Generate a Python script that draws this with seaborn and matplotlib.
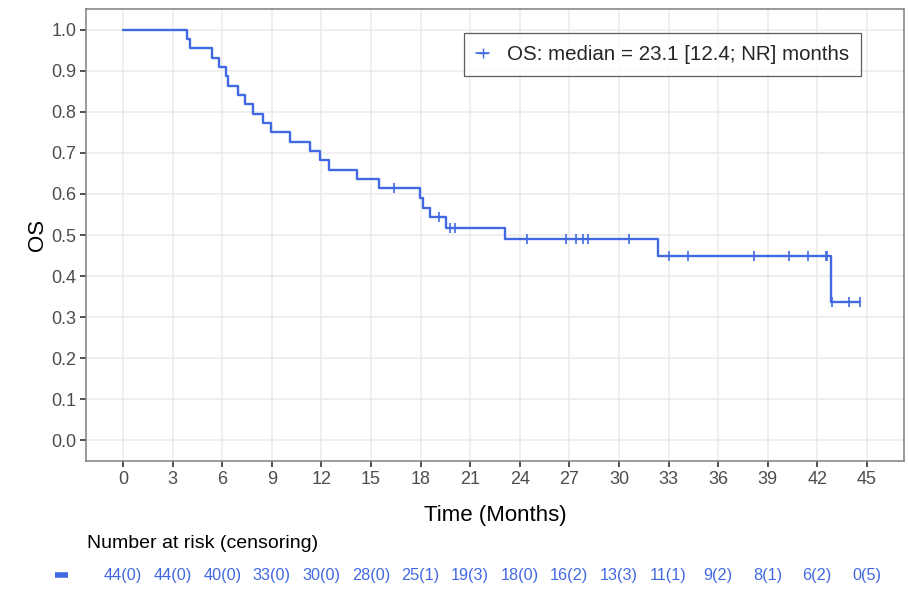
import numpy as np
import pandas as pd
import matplotlib
matplotlib.use("Agg")
import matplotlib.pyplot as plt
import seaborn as sns
from matplotlib.lines import Line2D

# ---- data ----
event_times = [3.86, 4.05, 5.4, 5.8, 6.2, 6.34, 6.94, 7.35, 7.85, 8.45, 8.92,
               10.08, 11.28, 11.93, 12.43, 14.13, 15.48, 17.95, 18.15, 18.55,
               19.55, 23.1, 32.35, 42.85]
censor_times = [16.4, 19.1, 19.8, 20.1, 24.43, 26.8, 27.42, 27.83, 28.13, 30.6,
                33.05, 34.2, 38.2, 40.3, 41.45, 42.5, 42.57, 42.9, 43.95, 44.6]
risk_times = [0, 3, 6, 9, 12, 15, 18, 21, 24, 27, 30, 33, 36, 39, 42, 45]
n_at_risk = [44, 44, 40, 33, 30, 28, 25, 19, 18, 16, 13, 11, 9, 8, 6, 0]
n_censored = [0, 0, 0, 0, 0, 0, 1, 3, 0, 2, 3, 1, 2, 1, 2, 5]
legend_label = "OS: median = 23.1 [12.4; NR] months"

color = "#4169E1"

# ---- Kaplan-Meier estimate ----
df = pd.DataFrame({
    "time": event_times + censor_times,
    "event": [1] * len(event_times) + [0] * len(censor_times),
}).sort_values(["time"]).reset_index(drop=True)

n = len(df)
s = 1.0
km_t = [0.0]
km_s = [1.0]
cens_t, cens_s = [], []
at_risk = n
for t, e in zip(df["time"], df["event"]):
    if e == 1:
        s *= (at_risk - 1) / at_risk
        km_t.append(t)
        km_s.append(s)
    else:
        cens_t.append(t)
        cens_s.append(s)
    at_risk -= 1
km_t.append(max(df["time"]))
km_s.append(s)
km = pd.DataFrame({"t": km_t, "s": km_s})
cens = pd.DataFrame({"t": cens_t, "s": cens_s})

# ---- figure ----
sns.set_theme(style="whitegrid")
plt.rcParams["font.family"] = ["Liberation Sans", "DejaVu Sans"]

W, H = 908, 590
fig = plt.figure(figsize=(W / 100, H / 100), dpi=100)
ax = fig.add_axes([86 / W, 1 - 461 / H, (904 - 86) / W, (461 - 9) / H])

sns.lineplot(data=km, x="t", y="s", ax=ax, drawstyle="steps-post",
             color=color, linewidth=1.7, estimator=None)
sns.scatterplot(data=cens, x="t", y="s", ax=ax, marker="|", s=60,
                color=color, linewidth=1.2, zorder=5)

ax.set_xlim(-2.25, 47.25)
ax.set_ylim(-0.05, 1.05)
ax.set_xticks(risk_times)
ax.set_yticks(np.round(np.arange(0, 1.01, 0.1), 1))
ax.set_yticklabels([f"{v:.1f}" for v in np.arange(0, 1.01, 0.1)])
ax.set_xlabel("Time (Months)", fontsize=16, color="black", labelpad=12.5)
ax.set_ylabel("OS", fontsize=16, color="black", labelpad=2)
ax.tick_params(axis="both", which="major", bottom=True, left=True,
               labelsize=13, labelcolor="#4D4D4D", color="#333333",
               length=4, width=1.2, direction="out", pad=3)
ax.grid(True, color="#EBEBEB", linewidth=1.1)
for sp in ax.spines.values():
    sp.set_color("#7F7F7F")
    sp.set_linewidth(1.1)

handle = Line2D([0], [0], color=color, marker="+", markersize=7, linewidth=1.2)
leg = ax.legend([handle], [legend_label], loc="upper right",
                bbox_to_anchor=((861 - 86) / 818, 1 - (33 - 9) / 452),
                fontsize=14.8, frameon=True, fancybox=False, handlelength=0.65,
                borderpad=0.58, handletextpad=0.85, borderaxespad=0)
leg.get_frame().set_edgecolor("#333333")
leg.get_frame().set_linewidth(0.9)

# ---- risk table ----
rax = fig.add_axes([86 / W, 0, (904 - 86) / W, 1 - 461 / H - 0.0])
rax.set_xlim(ax.get_xlim())
rax.set_ylim(0, 130)
rax.axis("off")
fig.text(87 / W, 1 - 543 / H, "Number at risk (censoring)", fontsize=14,
         color="black", ha="left", va="center")
for t, nr, nc in zip(risk_times, n_at_risk, n_censored):
    rax.text(t, 130 - (576 - 461), f"{nr}({nc})", ha="center", va="center",
             fontsize=11.7, color=color)
fig.add_artist(Line2D([55 / W, 68 / W], [1 - 575 / H, 1 - 575 / H],
                      color=color, linewidth=4, solid_capstyle="butt"))

fig.savefig("out.png", dpi=100)
